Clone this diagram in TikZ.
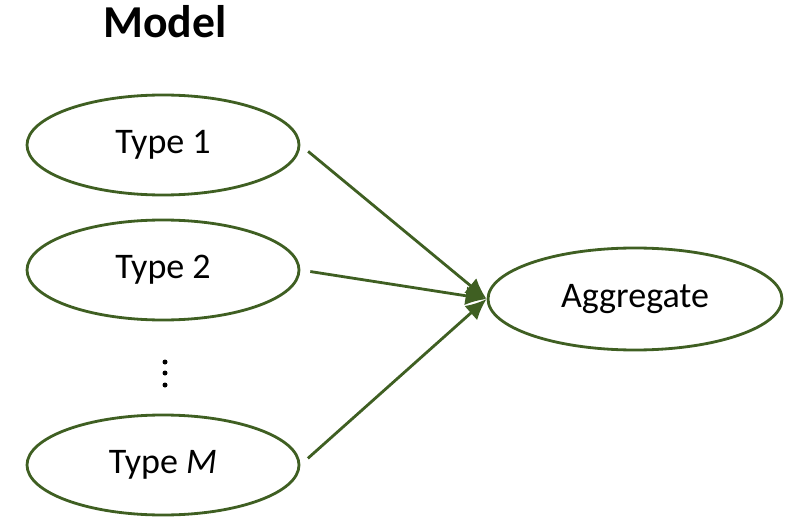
\documentclass[tikz,border=0pt]{standalone}
\usepackage{fontspec}
\setmainfont{Carlito}
\usetikzlibrary{arrows.meta,shapes.geometric}
\definecolor{modelgreen}{HTML}{3F5F22}
\tikzset{
  typebox/.style={ellipse, draw=modelgreen, line width=1.6pt, minimum width=5.44cm, minimum height=2cm, font=\fontsize{20.5}{24}\selectfont},
  flow/.style={draw=modelgreen, line width=1.6pt, -{Latex[length=0.42cm,width=0.38cm]}, shorten <=0.2cm}
}
\begin{document}
\begin{tikzpicture}
    \useasboundingbox (0,0) rectangle (15.94,-10.6);
    \node[font=\fontsize{26}{30}\selectfont\bfseries] (title) at (3.3,-0.44) {Model};

    \node[typebox] (type1) at (3.26,-2.9) {Type 1};
    \node[typebox] (type2) at (3.26,-5.4) {Type 2};
    \node[typebox] (typeM) at (3.26,-9.3) {Type \textit{M}};
    \node[typebox, minimum width=5.88cm, minimum height=2.04cm] (agg) at (12.7,-5.98) {Aggregate};

    \foreach \y in {-7.24, -7.46, -7.70} { \fill (3.3,\y) circle (0.05); }

    \foreach \t in {type1, type2, typeM} { \draw[flow] (\t.east) -- (agg.west); }
  \end{tikzpicture}
\end{document}
